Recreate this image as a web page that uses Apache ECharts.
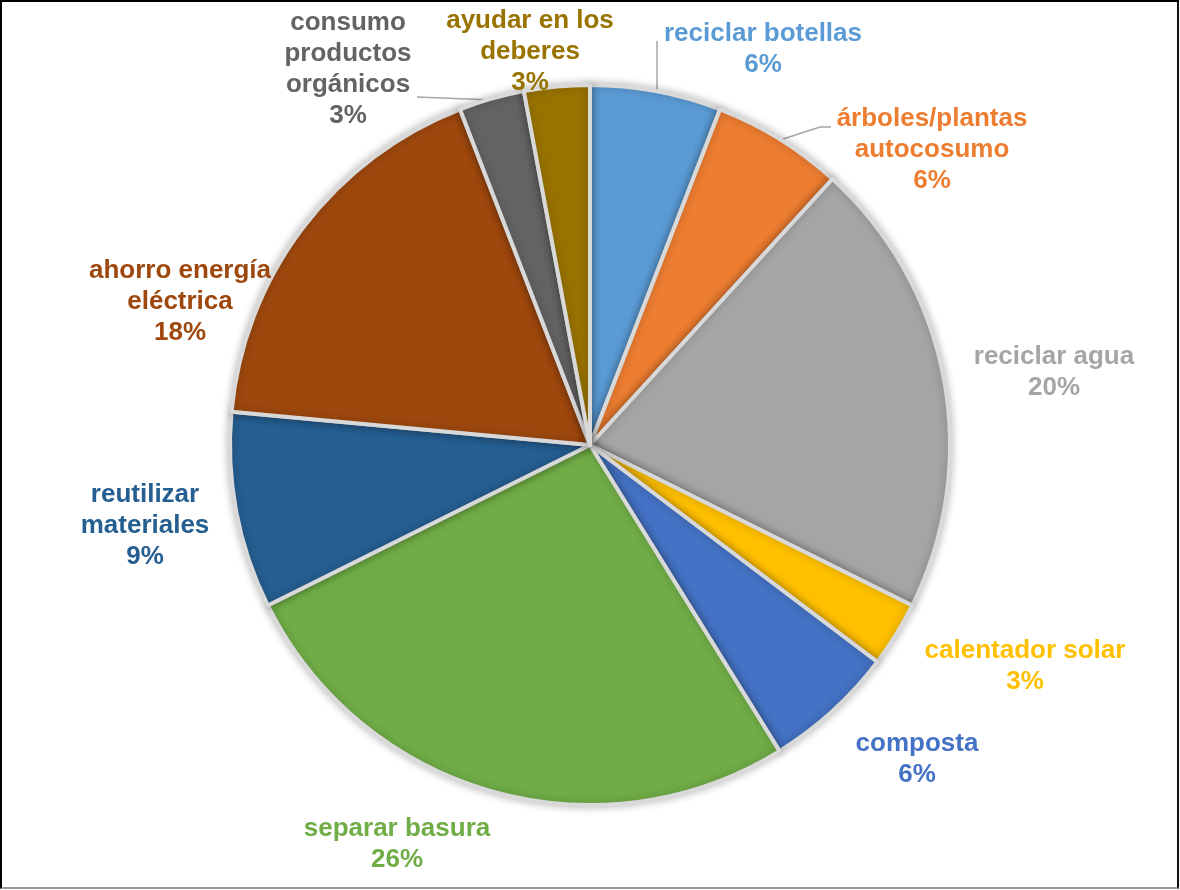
<!DOCTYPE html>
<html>
<head>
<meta charset="utf-8">
<script src="https://cdn.jsdelivr.net/npm/echarts@6/dist/echarts.min.js"></script>
<style>
html,body{margin:0;padding:0;background:#fff;overflow:hidden;}
#chart{position:absolute;left:0;top:0;width:1180px;height:890px;}
#frame{position:absolute;left:0;top:0;width:1179px;height:889px;box-sizing:border-box;
  border-top:2px solid #000;border-left:2px solid #000;border-right:2px solid #111;border-bottom:2px solid #9a9a9a;pointer-events:none;}
</style>
</head>
<body>
<div id="chart"></div>
<div id="frame"></div>
<script>
// ---- data ----
const categories = [
  'reciclar botellas',
  'árboles/plantas\nautocosumo',
  'reciclar agua',
  'calentador solar',
  'composta',
  'separar basura',
  'reutilizar\nmateriales',
  'ahorro energía\neléctrica',
  'consumo\nproductos\norgánicos',
  'ayudar en los\ndeberes'
];
const values = [2, 2, 7, 1, 2, 9, 3, 6, 1, 1];

// ---- styling / layout ----
const colors = ['#5B9BD5','#ED7D31','#A5A5A5','#FFC000','#4472C4','#70AD47','#255E91','#9E480E','#636363','#997300'];
const showLeader = [true, true, false, false, false, false, false, false, true, false];
const labelCenters = [[763,49],[932,150],[1054,372],[1025,666],[917,759],[397,844],[145,526],[180,302],[348,69],[530,52]];
const leaderPaths = {
  0: [[657,91],[657,41]],
  1: [[780,140],[820,127],[831,127]],
  8: [[492,100],[417,97]]
};

const chart = echarts.init(document.getElementById('chart'), null, {renderer: 'canvas'});
const seriesData = categories.map((c, i) => ({
  name: c,
  value: values[i],
  itemStyle: {color: colors[i]},
  label: {color: colors[i]},
  labelLine: {show: showLeader[i]}
}));

chart.setOption({
  animation: false,
  backgroundColor: '#fff',
  series: [{
    type: 'pie',
    center: ['50%', '50%'],
    radius: 360,
    startAngle: 90,
    clockwise: true,
    avoidLabelOverlap: false,
    percentPrecision: 0,
    data: seriesData,
    itemStyle: {
      borderColor: '#d9d9d9',
      borderWidth: 4,
      shadowBlur: 8,
      shadowColor: 'rgba(0,0,0,0.25)'
    },
    label: {
      show: true,
      position: 'outside',
      formatter: '{b}\n{d}%',
      fontFamily: '"Liberation Sans", Arial, sans-serif',
      fontWeight: 'bold',
      fontSize: 26,
      lineHeight: 31
    },
    labelLine: {
      show: true,
      length: 20,
      length2: 8,
      lineStyle: {color: '#a6a6a6', width: 1.5}
    },
    labelLayout: function (p) {
      const c = labelCenters[p.dataIndex];
      const o = {x: c[0], y: c[1], align: 'center', verticalAlign: 'middle'};
      if (leaderPaths[p.dataIndex]) o.labelLinePoints = leaderPaths[p.dataIndex];
      return o;
    },
    emphasis: {disabled: true}
  }]
});
</script>
</body>
</html>
